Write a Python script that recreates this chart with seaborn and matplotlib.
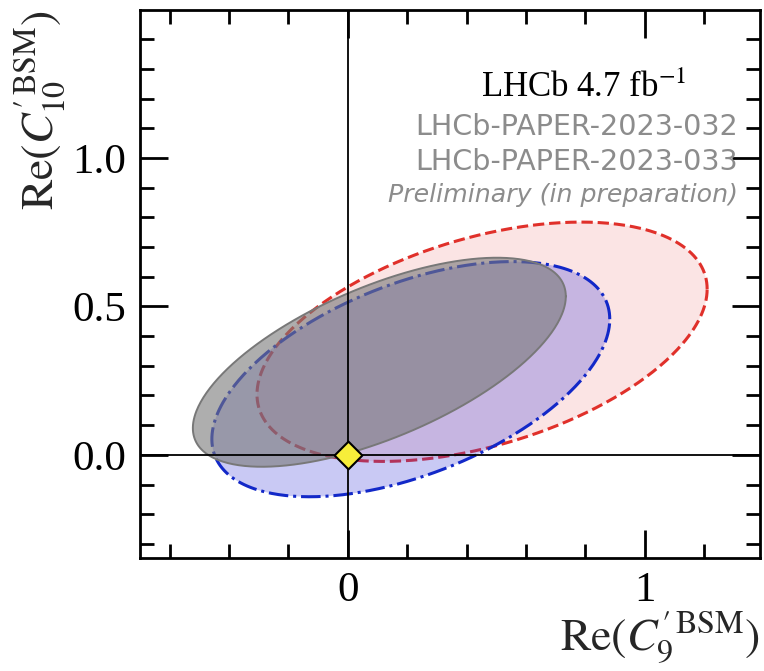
import numpy as np
import pandas as pd
import matplotlib
matplotlib.use("Agg")
import matplotlib.pyplot as plt
from matplotlib.ticker import MultipleLocator, FixedLocator
import seaborn as sns

# ---- data: 2D confidence contours (center, half-extents, correlation) ----
contour_names = ["red", "blue", "grey"]
center_x = [0.452, 0.212, 0.106]
center_y = [0.381, 0.255, 0.312]
extent_x = [0.758, 0.670, 0.628]
extent_y = [0.403, 0.396, 0.352]
correlation = [0.44, 0.51, 0.63]

sm_point_x = [0.0]
sm_point_y = [0.0]

xtick_vals = [0, 1]
xtick_labels = ["0", "1"]
ytick_vals = [0.0, 0.5, 1.0]
ytick_labels = ["0.0", "0.5", "1.0"]

sns.set_style("ticks")
plt.rcParams["font.family"] = ["Liberation Serif", "DejaVu Serif"]
plt.rcParams["mathtext.fontset"] = "stix"

fig = plt.figure(figsize=(7.64, 6.71), dpi=100)
ax = fig.add_axes([140 / 764, 113 / 671, 620 / 764, 548 / 671])

t = np.linspace(0, 2 * np.pi, 400)


def contour(i):
    x = center_x[i] + extent_x[i] * np.cos(t)
    r = correlation[i]
    y = center_y[i] + extent_y[i] * (r * np.cos(t) + np.sqrt(1 - r * r) * np.sin(t))
    return pd.DataFrame({"x": x, "y": y})


styles = {
    "red": dict(fill=(0.90, 0.20, 0.20), falpha=0.13, line="#e0302a", ls="--", lw=2.2),
    "blue": dict(fill=(0.24, 0.24, 0.86), falpha=0.28, line="#1228c8", ls="-.", lw=2.2),
    "grey": dict(fill=(0.47, 0.47, 0.47), falpha=0.60, line="#787878", ls="-", lw=1.4),
}

for i, name in enumerate(contour_names):
    df = contour(i)
    st = styles[name]
    ax.fill(df["x"], df["y"], color=st["fill"], alpha=st["falpha"], lw=0, zorder=2 + i)
    sns.lineplot(data=df, x="x", y="y", sort=False, estimator=None, ax=ax,
                 color=st["line"], linestyle=st["ls"], linewidth=st["lw"], zorder=2 + i)

ax.axhline(0, color="black", lw=1.3, zorder=6)
ax.axvline(0, color="black", lw=1.3, zorder=6)
sns.scatterplot(x=sm_point_x, y=sm_point_y, marker="D", s=200, color="#f7ee3a",
                edgecolor="black", linewidth=1.5, zorder=10, ax=ax)

ax.set_xlim(-0.70, 1.388)
ax.set_ylim(-0.347, 1.498)
ax.set_aspect("equal", adjustable="box")

ax.xaxis.set_major_locator(FixedLocator(xtick_vals))
ax.set_xticklabels(xtick_labels)
ax.yaxis.set_major_locator(FixedLocator(ytick_vals))
ax.set_yticklabels(ytick_labels)
ax.xaxis.set_minor_locator(MultipleLocator(0.2))
ax.yaxis.set_minor_locator(MultipleLocator(0.1))
ax.tick_params(which="both", direction="in", top=True, right=True, width=2, colors="black")
ax.tick_params(which="major", length=20, labelsize=31, pad=10)
ax.tick_params(which="minor", length=10)
for s in ax.spines.values():
    s.set_linewidth(2)
    s.set_color("black")

ax.set_xlabel(r"$\mathrm{Re}(C_{9}^{\prime\,\mathrm{BSM}})$", fontsize=33, loc="right", labelpad=0)
ax.set_ylabel(r"$\mathrm{Re}(C_{10}^{\prime\,\mathrm{BSM}})$", fontsize=33, loc="top", labelpad=4)

ax.text(0.882, 0.841, r"LHCb 4.7 fb$^{-1}$", transform=ax.transAxes, ha="right",
        va="baseline", fontsize=25, color="black", zorder=12)
ax.text(0.965, 0.772, "LHCb-PAPER-2023-032", transform=ax.transAxes, ha="right",
        va="baseline", fontsize=20.6, color="#8c8c8c", family=["DejaVu Sans"], zorder=12)
ax.text(0.965, 0.708, "LHCb-PAPER-2023-033", transform=ax.transAxes, ha="right",
        va="baseline", fontsize=20.6, color="#8c8c8c", family=["DejaVu Sans"], zorder=12)
ax.text(0.965, 0.650, "Preliminary (in preparation)", transform=ax.transAxes, ha="right",
        va="baseline", fontsize=18.2, color="#8c8c8c", style="italic",
        family=["DejaVu Sans"], zorder=12)

fig.savefig("out.png", dpi=100)
